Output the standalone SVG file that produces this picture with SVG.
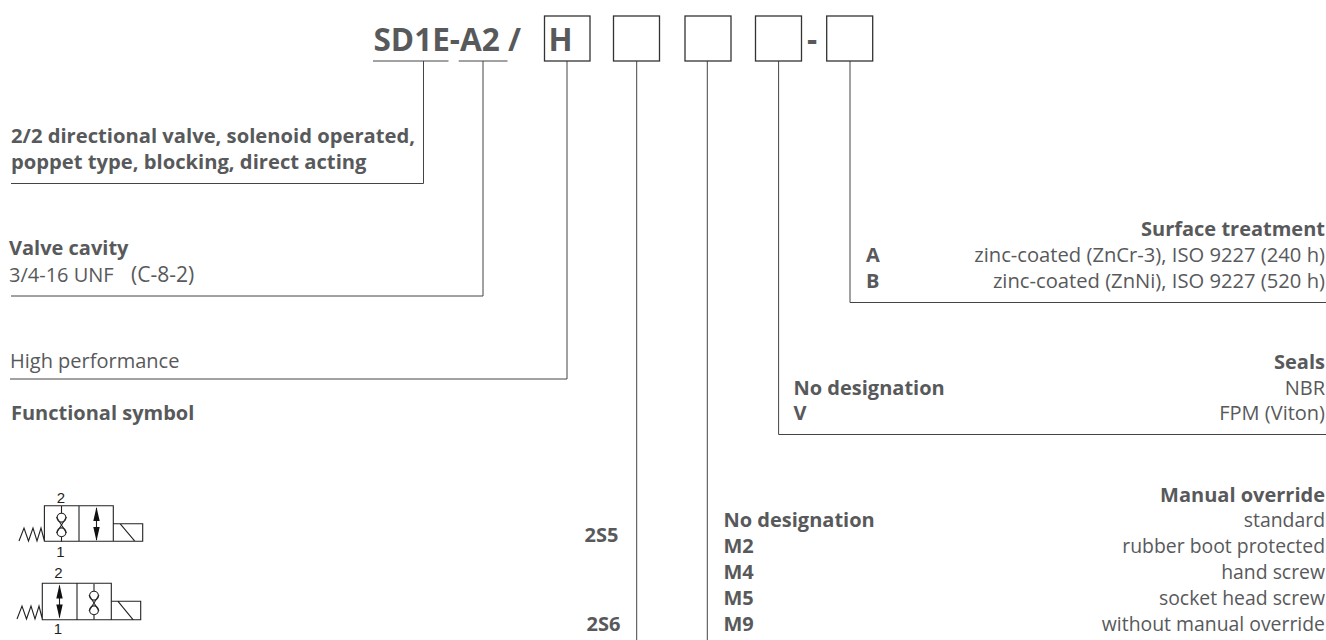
<svg xmlns="http://www.w3.org/2000/svg" width="1326" height="640" viewBox="0 0 1326 640">
<style>
text{font-family:"Open Sans","Noto Sans",sans-serif;font-size:20px;fill:#58595b}
.b{font-weight:700}
.r{text-anchor:end}
.n{font-size:19.400px}
.w{font-size:20.200px}
.t{font-size:31.500px;font-weight:700}
.s{font-family:"Liberation Sans",Arial,sans-serif;font-size:15px;fill:#231f20;text-anchor:middle}
.l{fill:none;stroke:#444;stroke-width:1}
.box{fill:none;stroke:#333;stroke-width:1.3}
.v{fill:none;stroke:#222;stroke-width:1.100}
.h{fill:#111;stroke:none}
</style>
<defs>
<g id="chk"><path class="v" d="M0-19V-12M0 12V16.500"/><circle class="v" cx="0" cy="-7.300" r="4.400"/><circle class="v" cx="0" cy="7.300" r="4.400"/><path class="v" d="M-5-8L5 8M5-8L-5 8"/></g>
<g id="arw"><path class="v" d="M0-16V16"/><path class="h" d="M0-17L3.200-3H-3.200ZM0 17L3.200 3H-3.200Z"/></g>
</defs>
<g id="connectors">
<path class="l" d="M373 61H448.500M458.700 61H507.500"/>
<path class="l" d="M423.500 61V183.500H11M483 61V296H11M567 61V379H10M636.700 61V640M707.300 61V640M778.600 61V434.500H1326M850 61V302.500H1326"/>
</g>
<g id="title"><text class="t" x="373.500" y="50.700">SD1E-A2 /</text></g>
<g id="box-h"><rect class="box" x="544.500" y="16" width="45.500" height="45"/><text class="t" x="548.500" y="50.700">H</text></g>
<g id="box-2"><rect class="box" x="613.500" y="16" width="46" height="45"/></g>
<g id="box-3"><rect class="box" x="685" y="16" width="46" height="45"/></g>
<g id="box-4"><rect class="box" x="755.500" y="16" width="46" height="45"/></g>
<text class="t" x="807" y="50.700">-</text>
<g id="box-5"><rect class="box" x="826.700" y="16" width="46" height="45"/></g>
<g id="type"><text class="b w" x="11" y="142.700">2/2 directional valve, solenoid operated,</text><text class="b w" x="11" y="169.300">poppet type, blocking, direct acting</text></g>
<g id="cavity"><text class="b" x="9" y="255">Valve cavity</text><text x="9" y="281.700" xml:space="preserve">3/4-16 UNF<tspan x="131" font-size="21">(C-8-2)</tspan></text></g>
<g id="performance"><text x="10" y="368">High performance</text></g>
<g id="symbol-title"><text class="b" x="11" y="420">Functional symbol</text></g>
<g id="surface"><text class="b r" x="1325" y="235.500">Surface treatment</text><text class="b" x="866" y="262">A</text><text class="r w" x="1325" y="262">zinc-coated (ZnCr-3), ISO 9227 (240 h)</text><text class="b" x="866" y="288.300">B</text><text class="r w" x="1325" y="288.300">zinc-coated (ZnNi), ISO 9227 (520 h)</text></g>
<g id="seals"><text class="b r" x="1325" y="369">Seals</text><text class="b" x="793.500" y="394.500">No designation</text><text class="r" x="1325" y="394.500">NBR</text><text class="b" x="793.500" y="420">V</text><text class="r" x="1325" y="420">FPM (Viton)</text></g>
<g id="override"><text class="b r" x="1325" y="501.700">Manual override</text><text class="b" x="723.500" y="527.300">No designation</text><text class="r n" x="1325" y="527.300">standard</text><text class="b" x="723.500" y="553.300">M2</text><text class="r n" x="1325" y="553.300">rubber boot protected</text><text class="b" x="723.500" y="579.300">M4</text><text class="r n" x="1325" y="579.300">hand screw</text><text class="b" x="723.500" y="605">M5</text><text class="r n" x="1325" y="605">socket head screw</text><text class="b" x="723.500" y="630.700">M9</text><text class="r n" x="1325" y="630.700">without manual override</text></g>
<g id="s2s5"><text class="b" x="584.500" y="541.700">2S5</text></g>
<g id="s2s6"><text class="b" x="586.500" y="630.700">2S6</text></g>
<g id="valve1">
<path class="v" d="M44.400 505.700H113.300V541.300H44.400ZM79 505.700V541.300M113.300 523.700H142.700V541.300H113.300M120 523.700L135 541.300M19 541L24 528L28.500 541L33 528L37 541L41 528L44.400 541"/>
<use href="#chk" x="61.500" y="525"/><use href="#arw" x="96.500" y="524"/>
<text class="s" x="61" y="502.700">2</text><text class="s" x="60.500" y="556.700">1</text>
</g>
<g id="valve2">
<path class="v" d="M42.300 583.300H111.300V619.700H42.300ZM77 583.300V619.700M111.300 601.300H140.700V619.700H111.300M118 601.300L133 619.700M17 619L22 606L26.500 619L31 606L35 619L39 606L42.300 619"/>
<use href="#arw" x="59.500" y="601.500"/><use href="#chk" x="94" y="603"/>
<text class="s" x="58.300" y="577.700">2</text><text class="s" x="58" y="634">1</text>
</g>
</svg>
